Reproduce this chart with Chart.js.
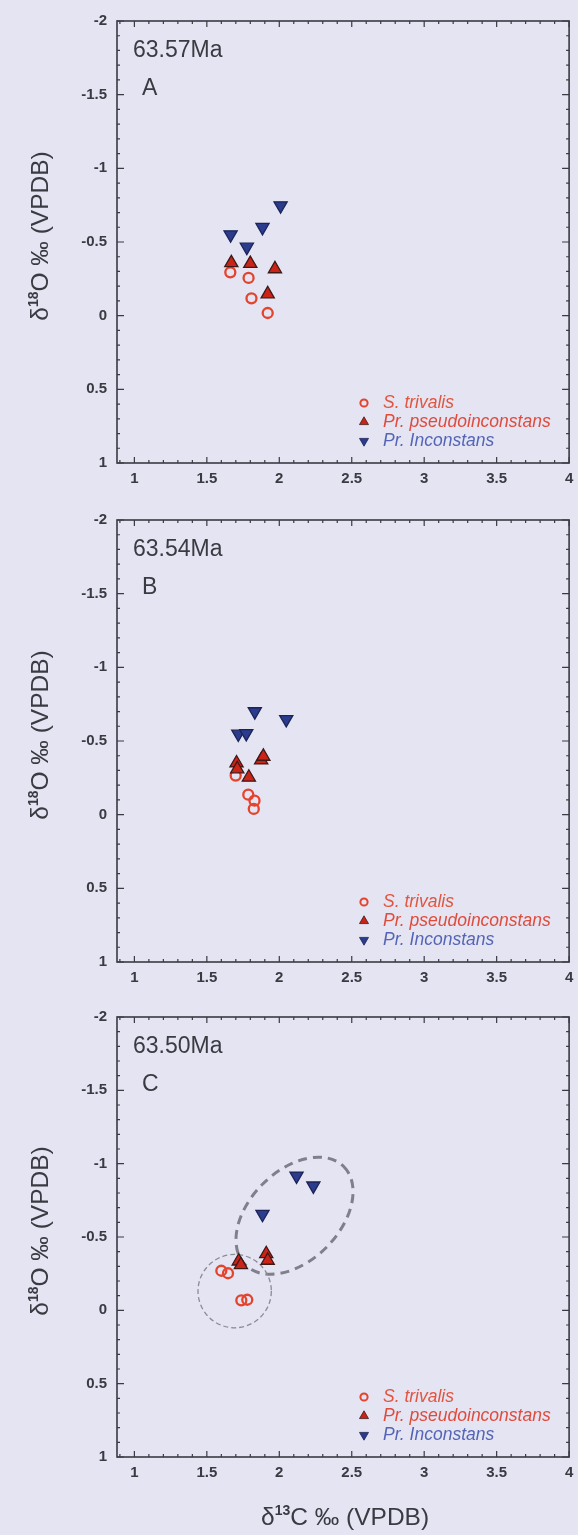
<!DOCTYPE html>
<html>
<head>
<meta charset="utf-8">
<script src="https://cdn.jsdelivr.net/npm/chart.js@4.4.1/dist/chart.umd.min.js"></script>
<style>
html,body{margin:0;padding:0;background:#e4e4f3;}
body{width:578px;height:1535px;position:relative;overflow:hidden;}
canvas{position:absolute;left:0;}
</style>
</head>
<body>
<canvas id="cA" width="578" height="498" style="top:0px"></canvas>
<canvas id="cB" width="578" height="498" style="top:499px"></canvas>
<canvas id="cC" width="578" height="539" style="top:996px"></canvas>
<script>
// ---------- DATA ----------
const xTickLabels = [1, 1.5, 2, 2.5, 3, 3.5, 4];
const yTickLabels = [-2, -1.5, -1, -0.5, 0, 0.5, 1];
const panelAges = ['63.57Ma', '63.54Ma', '63.50Ma'];
const panelLetters = ['A', 'B', 'C'];
const seriesNames = ['S. trivalis', 'Pr. pseudoinconstans', 'Pr. Inconstans'];
const yTitleParts = ['δ', '18', 'O ‰ (VPDB)'];
const xTitleParts = ['δ', '13', 'C ‰ (VPDB)'];

// panel A (63.57Ma)  [δ13C, δ18O]
const trivalisA = [[1.662,-0.294],[1.788,-0.256],[1.808,-0.118],[1.920,-0.018]];
const pseudoA   = [[1.669,-0.358],[1.800,-0.353],[1.970,-0.317],[1.920,-0.147]];
const inconA    = [[1.664,-0.550],[1.776,-0.466],[1.884,-0.600],[2.009,-0.747]];
// panel B (63.54Ma)
const trivalisB = [[1.699,-0.265],[1.786,-0.136],[1.829,-0.095],[1.824,-0.039]];
const pseudoB   = [[1.705,-0.350],[1.710,-0.310],[1.790,-0.253],[1.875,-0.370],[1.890,-0.395]];
const inconB    = [[1.717,-0.548],[1.772,-0.552],[1.831,-0.700],[2.048,-0.647]];
// panel C (63.50Ma)
const trivalisC = [[1.600,-0.270],[1.646,-0.253],[1.738,-0.068],[1.779,-0.072]];
const pseudoC   = [[1.720,-0.335],[1.735,-0.310],[1.910,-0.385],[1.920,-0.340]];
const inconC    = [[1.884,-0.656],[2.119,-0.917],[2.235,-0.849]];
// grouping outlines in panel C (data units)
const groupEllipseC = {cx: 2.105, cy: -0.645, rx: 0.48, ry: 0.31, angle: -45};
const groupCircleC  = {cx: 1.692, cy: -0.131, r: 0.253};

// ---------- STYLE ----------
const FONT = '"Liberation Sans", Arial, Helvetica, sans-serif';
const INK = '#3a3a42';
const styles = {
  trivalis: {pointStyle:'circle', pointRadius:5, borderWidth:2.3, borderColor:'#e4432c', backgroundColor:'rgba(0,0,0,0)', rotation:0},
  pseudo:   {pointStyle:'triangle', pointRadius:7.6, borderWidth:1.3, borderColor:'#3e1a16', backgroundColor:'#cc2318', rotation:0},
  incon:    {pointStyle:'triangle', pointRadius:7.6, borderWidth:1.3, borderColor:'#1c2356', backgroundColor:'#2b3b8e', rotation:180}
};
const legendColors = ['#e2553f', '#e04b3c', '#5565b5'];

const toPts = arr => arr.map(p => ({x: p[0], y: p[1]}));

function drawRich(ctx, parts, x, y, rot) {
  ctx.save();
  ctx.translate(x, y);
  ctx.rotate(rot);
  let total = 0;
  parts.forEach(p => { ctx.font = p.font; p.w = ctx.measureText(p.t).width; total += p.w; });
  let cx = -total / 2;
  ctx.textBaseline = 'alphabetic';
  ctx.textAlign = 'left';
  ctx.fillStyle = INK;
  parts.forEach(p => { ctx.font = p.font; ctx.fillText(p.t, cx, -(p.rise || 0)); cx += p.w; });
  ctx.restore();
}

const framePlugin = {
  id: 'frame',
  beforeDatasetsDraw(chart, args, opts) {
    const ctx = chart.ctx, a = chart.chartArea;
    const xs = chart.scales.x, ys = chart.scales.y;
    ctx.save();
    if (opts.groups) {
      const ppu = Math.abs(xs.getPixelForValue(1) - xs.getPixelForValue(0));
      const e = groupEllipseC;
      ctx.strokeStyle = '#80808c';
      ctx.lineWidth = 3;
      ctx.setLineDash([9, 6]);
      ctx.beginPath();
      ctx.ellipse(xs.getPixelForValue(e.cx), ys.getPixelForValue(e.cy), e.rx * ppu, e.ry * ppu, e.angle * Math.PI / 180, 0, 2 * Math.PI);
      ctx.stroke();
      const c = groupCircleC;
      ctx.lineWidth = 1.3;
      ctx.strokeStyle = '#8c8c98';
      ctx.setLineDash([5, 3]);
      ctx.beginPath();
      ctx.arc(xs.getPixelForValue(c.cx), ys.getPixelForValue(c.cy), c.r * ppu, 0, 2 * Math.PI);
      ctx.stroke();
      ctx.setLineDash([]);
    }
    ctx.strokeStyle = INK;
    ctx.lineWidth = 1.6;
    ctx.strokeRect(a.left, a.top, a.right - a.left, a.bottom - a.top);
    ctx.lineWidth = 1.2;
    ctx.beginPath();
    for (let i = 9; i <= 40; i++) {
      const px = xs.getPixelForValue(i / 10);
      const len = (i % 5 === 0) ? 6 : 3;
      ctx.moveTo(px, a.bottom); ctx.lineTo(px, a.bottom - len);
      ctx.moveTo(px, a.top); ctx.lineTo(px, a.top + len);
    }
    for (let i = -20; i <= 10; i++) {
      const py = ys.getPixelForValue(i / 10);
      const len = (i % 5 === 0) ? 7 : 3;
      ctx.moveTo(a.left, py); ctx.lineTo(a.left + len, py);
      ctx.moveTo(a.right, py); ctx.lineTo(a.right - len, py);
    }
    ctx.stroke();
    ctx.restore();
  },
  afterDraw(chart, args, opts) {
    const ctx = chart.ctx, a = chart.chartArea;
    ctx.save();
    ctx.fillStyle = INK;
    ctx.textBaseline = 'middle';
    ctx.textAlign = 'left';
    ctx.font = '23px ' + FONT;
    ctx.fillText(opts.age, a.left + 16, a.top + 30);
    ctx.fillText(opts.letter, a.left + 25, a.top + 68);
    // legend
    const mx = a.left + 247, tx = a.left + 266;
    const rows = [a.bottom - 60, a.bottom - 41, a.bottom - 22];
    const legStyles = [styles.trivalis, styles.pseudo, styles.incon];
    rows.forEach((ry, i) => {
      const s = legStyles[i];
      ctx.fillStyle = s.backgroundColor;
      ctx.strokeStyle = s.borderColor;
      ctx.lineWidth = i === 0 ? 2 : 0.8;
      Chart.helpers.drawPoint(ctx, {pointStyle: s.pointStyle, radius: i === 0 ? 3.6 : 5.2, borderWidth: ctx.lineWidth, rotation: s.rotation}, mx, ry);
      ctx.fillStyle = legendColors[i];
      ctx.font = 'italic 17.5px ' + FONT;
      ctx.textBaseline = 'middle';
      ctx.fillText(seriesNames[i], tx, ry);
    });
    drawRich(ctx, [
      {t: yTitleParts[0], font: '24.5px ' + FONT},
      {t: yTitleParts[1], font: 'bold 14px ' + FONT, rise: 10},
      {t: yTitleParts[2], font: '24.5px ' + FONT}
    ], 48, (a.top + a.bottom) / 2 - 6, -Math.PI / 2);
    if (opts.xTitle) {
      drawRich(ctx, [
        {t: xTitleParts[0], font: '24.5px ' + FONT},
        {t: xTitleParts[1], font: 'bold 14px ' + FONT, rise: 10},
        {t: xTitleParts[2], font: '24.5px ' + FONT}
      ], (a.left + a.right) / 2 + 2, a.bottom + 68, 0);
    }
    ctx.restore();
  }
};

function makeChart(id, sets, idx, axisH, xTitle) {
  const [triv, pseu, inco] = sets;
  const ds = [
    Object.assign({label: seriesNames[2], data: toPts(inco)}, styles.incon),
    Object.assign({label: seriesNames[1], data: toPts(pseu)}, styles.pseudo),
    Object.assign({label: seriesNames[0], data: toPts(triv)}, styles.trivalis)
  ];
  ds.forEach(d => { d.pointHoverRadius = d.pointRadius; d.showLine = false; });
  return new Chart(document.getElementById(id), {
    type: 'scatter',
    data: {datasets: ds},
    options: {
      responsive: false,
      animation: false,
      devicePixelRatio: 1,
      layout: {padding: {top: 21, right: 6, left: 0, bottom: 0}},
      plugins: {
        legend: {display: false},
        tooltip: {enabled: false},
        frame: {age: panelAges[idx], letter: panelLetters[idx], xTitle: xTitle, groups: idx === 2}
      },
      scales: {
        x: {
          type: 'linear', min: 0.88, max: 4,
          afterBuildTicks: s => { s.ticks = xTickLabels.map(v => ({value: v})); },
          afterFit: s => { s.height = axisH; s.paddingLeft = 0; s.paddingRight = 0; },
          grid: {display: false, drawTicks: false},
          border: {display: false},
          ticks: {color: INK, font: {family: FONT, size: 15, weight: 'bold'}, padding: 7, maxRotation: 0, autoSkip: false, callback: v => String(v)}
        },
        y: {
          type: 'linear', min: -2, max: 1, reverse: true,
          afterBuildTicks: s => { s.ticks = yTickLabels.map(v => ({value: v})); },
          afterFit: s => { s.width = 117; s.paddingTop = 0; s.paddingBottom = 0; },
          grid: {display: false, drawTicks: false},
          border: {display: false},
          ticks: {color: INK, font: {family: FONT, size: 15, weight: 'bold'}, padding: 10, autoSkip: false, callback: v => String(v)}
        }
      }
    },
    plugins: [framePlugin]
  });
}

makeChart('cA', [trivalisA, pseudoA, inconA], 0, 35, false);
makeChart('cB', [trivalisB, pseudoB, inconB], 1, 35, false);
makeChart('cC', [trivalisC, pseudoC, inconC], 2, 78, true);
</script>
</body>
</html>
